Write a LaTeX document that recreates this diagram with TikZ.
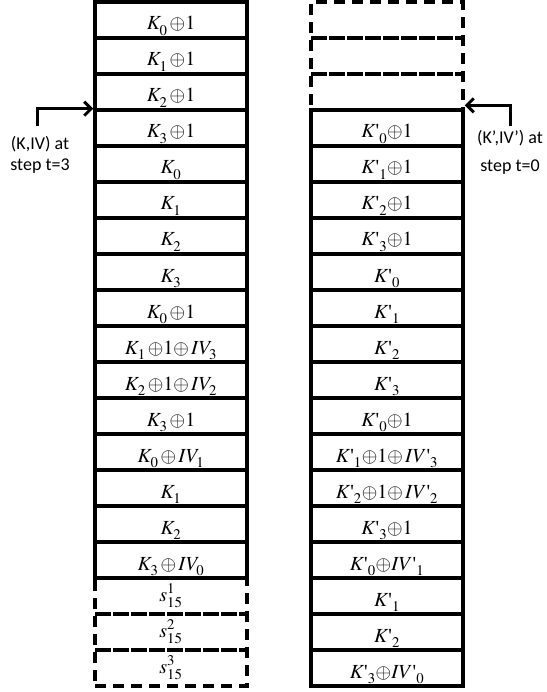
\documentclass[tikz,border=0pt]{standalone}
\usepackage{mathptmx}
\usepackage[no-math]{fontspec}
\setmainfont{Carlito}
\newfontfamily\tms{Liberation Serif}
\usetikzlibrary{arrows.meta}
\everymath{\fontdimen16\textfont2=5.5pt \fontdimen17\textfont2=5.5pt }
\newcommand\myop{{\oplus}}
\newcommand\Kp[1]{K\mbox{\tms\textquotesingle}{}_{#1}}
\newcommand\IVp[1]{IV\mbox{\tms\textquotesingle}{}_{#1}}
\begin{document}
\begin{tikzpicture}[x=1pt,y=-1pt,
  cell/.style={draw,line width=3.3pt,minimum width=152pt,minimum height=36pt,inner sep=0pt,
    text height=20pt,text depth=0pt,font=\fontsize{20}{22}\selectfont},
  dcell/.style={cell,dash pattern=on 11pt off 7pt},
  scell/.style={dcell,text height=10pt},
  arr/.style={line width=3pt,-{Straight Barb[length=7pt,width=14pt]}},
  lbl/.style={align=center,inner sep=0pt}]
\useasboundingbox (0,0) rectangle (546,692);
% left column
\foreach \t [count=\i] in {
  {$K_0\,\myop 1$},{$K_1\,\myop 1$},{$K_2\,\myop 1$},{$K_3\,\myop 1$},
  {$K_0$},{$K_1$},{$K_2$},{$K_3$},
  {$K_0\,\myop 1$},{$K_1\,\myop 1\myop\,IV_3$},{$K_2\,\myop 1\myop\,IV_2$},{$K_3\,\myop 1$},
  {$K_0\,\myop\,IV_1$},{$K_1$},{$K_2$},{$K_3\,\myop\,IV_0$}}
  \node[cell] (l\i) at (171,36*\i-16) {\t};
\foreach \i in {17,18,19}
  \node[scell] (l\i) at (171,36*\i-16) {$s_{15}^{\pgfmathparse{int(\i-16)}\pgfmathresult}$};
% right column
\foreach \i in {1,2,3}
  \node[dcell] (r\i) at (387,36*\i-16) {};
\foreach \t [count=\j] in {
  {$\Kp{0}\myop 1$},{$\Kp{1}\myop 1$},{$\Kp{2}\myop 1$},{$\Kp{3}\myop 1$},
  {$\Kp{0}$},{$\Kp{1}$},{$\Kp{2}$},{$\Kp{3}$},
  {$\Kp{0}\myop 1$},{$\Kp{1}\myop 1\myop\,\IVp{3}$},{$\Kp{2}\myop 1\myop\,\IVp{2}$},{$\Kp{3}\myop 1$},
  {$\Kp{0}\myop \IVp{1}$},{$\Kp{1}$},{$\Kp{2}$},{$\Kp{3}\myop \IVp{0}$}}
  {\pgfmathtruncatemacro\k{\j+3}
   \node[cell] (r\k) at (387,36*\k-16) {\t};}
% labels and arrows
\node[lbl,font=\fontsize{18}{21}\selectfont] (lt) at (40,155) {(K,IV) at\\step t=3};
\node[lbl,font=\fontsize{18}{28}\selectfont] (rt) at (510,152) {(K’,IV’) at\\step t=0};
\coordinate (la) at (37,126);
\coordinate (ra) at (510,126);
\draw[arr] (la) |- ([yshift=3pt]l3.south west);
\draw[arr] (ra) |- ([yshift=3pt]r4.north east);
\end{tikzpicture}
\end{document}
